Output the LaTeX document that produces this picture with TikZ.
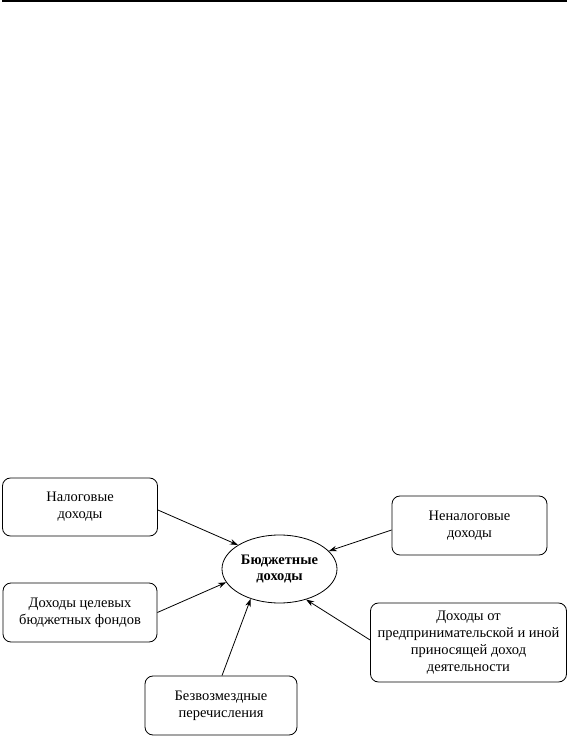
\documentclass[tikz,border=0pt]{standalone}
\usepackage{fontspec}
\setmainfont{Liberation Serif}
\usetikzlibrary{arrows.meta,shapes.geometric}
\begin{document}
\begin{tikzpicture}[x=1pt,y=1pt,
  box/.style={draw,line width=0.8pt,rounded corners=8pt,align=center,
    font=\fontsize{14.5}{16.8}\selectfont,inner sep=0pt},
  arr/.style={line width=0.8pt,-{Stealth[length=8pt,width=5.5pt]}}]
\useasboundingbox (0,0) rectangle (569,737);
\draw[line width=1.5pt] (2,736) coordinate (l1) -- (567,736) coordinate (l2);
\node[box,minimum width=155pt,minimum height=58pt] (nal) at (80,230) {Налоговые\\доходы};
\node[box,minimum width=155pt,minimum height=59pt] (nenal) at (469.5,211.5) {Неналоговые\\доходы};
\node[box,minimum width=154pt,minimum height=59pt] (cel) at (80,124.5) {Доходы целевых\\бюджетных фондов};
\node[box,minimum width=152pt,minimum height=59pt] (bezv) at (221,31.5) {Безвозмездные\\перечисления};
\node[box,minimum width=196pt,minimum height=79pt] (predp) at (468.5,94.5) {Доходы от\\предпринимательской и иной\\приносящей доход\\деятельности};
\node[draw,ellipse,line width=0.8pt,minimum width=115pt,minimum height=68pt,inner sep=0pt,align=center,
  font=\fontsize{14.5}{16.8}\selectfont\bfseries] (el) at (279.5,168) {Бюджетные\\доходы};
\draw[arr] ([yshift=-3pt]nal.east) -- (el.150);
\draw[arr] ([yshift=-4.5pt]nenal.west) -- (el.20);
\draw[arr] (cel.east) -- (el.194);
\draw[arr] ([xshift=1pt]bezv.north) -- (el.226);
\draw[arr] ([yshift=2.5pt]predp.west) -- (el.311);
\end{tikzpicture}
\end{document}
